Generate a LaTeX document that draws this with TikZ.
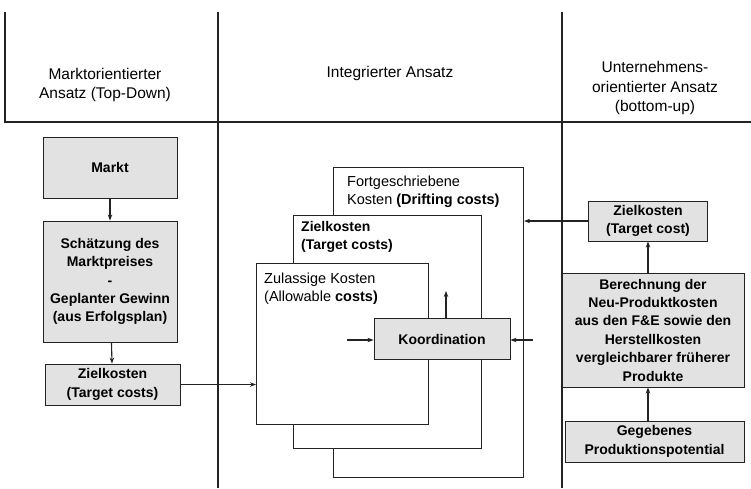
\documentclass[tikz,border=0pt]{standalone}
\usepackage{fontspec}
\setmainfont{Liberation Sans}
\usepackage{tikz}
\usetikzlibrary{arrows.meta,positioning}
\definecolor{boxgray}{RGB}{226,226,226}
\definecolor{inkline}{RGB}{35,35,35}

\begin{document}
\begin{tikzpicture}[x=1pt,y=-1pt,
  head/.style={align=center,font=\fontsize{15.5}{19.5}\selectfont},
  graybox/.style={rectangle,draw=inkline,line width=0.9pt,fill=boxgray,
    align=center,inner sep=0pt,font=\fontsize{14}{18.4}\selectfont\bfseries},
  layer/.style={rectangle,draw=inkline,line width=1.1pt,fill=white,
    anchor=north west,inner sep=0pt},
  layertext/.style={anchor=north west,align=left,inner sep=0pt,
    font=\fontsize{14.5}{18}\selectfont},
  sep/.style={line width=1.3pt,color=inkline},
  arrow/.style={-{Stealth[length=6pt,width=4.5pt]},line width=1.1pt,color=inkline},
]
  \useasboundingbox (0,0) rectangle (751,488);
  % column heads
  \node[head] (hmarkt) at (105,85)  {Marktorientierter\\Ansatz (Top-Down)};
  \node[head] (hinteg) at (390,73)  {Integrierter Ansatz};
  \node[head] (hunter) at (655,88)  {Unternehmens-\\orientierter Ansatz\\(bottom-up)};
  \coordinate (sepa) at (5,12);
  \coordinate (sepb) at (218,12);
  \coordinate (sepc) at (562,12);
  \draw[sep] (sepa) -- (sepa |- 0,122) -- (751,122);
  \draw[sep] (sepb) -- (sepb |- 0,488);
  \draw[sep] (sepc) -- (sepc |- 0,488);

  % top-down
  \node[graybox,minimum width=134,minimum height=61]  (markt)   at (110,167.5) {Markt};
  \node[graybox,minimum width=134,minimum height=121] (schaetz) at (110,281.5)
    {Schätzung des\\Marktpreises\\-\\Geplanter Gewinn\\(aus Erfolgsplan)};
  \node[graybox,minimum width=135,minimum height=41]  (zielL)   at (112.5,384.5) {Zielkosten\\(Target costs)};
  \draw[arrow] (markt) -- (schaetz);
  \draw[arrow] (schaetz) -- (zielL);

  % integrated
  \node[layer,minimum width=190,minimum height=310] (drift) at (333,167) {};
  \node[layertext] (drifttxt) at ([shift={(14,9)}]drift.north west)
    {Fortgeschriebene\\Kosten \textbf{(Drifting costs)}};
  \node[layer,minimum width=188,minimum height=233] (zielM) at (293,215) {};
  \node[layertext,font=\fontsize{14}{18}\selectfont\bfseries] (zielMtxt)
    at ([shift={(8,6)}]zielM.north west) {Zielkosten\\(Target costs)};
  \node[layer,minimum width=172,minimum height=161] (zul) at (256,263) {};
  \node[layertext] (zultxt) at ([shift={(8,10)}]zul.north west)
    {Zulassige Kosten\\(Allowable \textbf{costs)}};
  \node[graybox,minimum width=136,minimum height=41] (koord) at (442,339) {Koordination};
  \coordinate (kup)  at (446,291);
  \coordinate (kin)  at (347,340);
  \coordinate (kout) at (533,340);
  \draw[arrow] (koord.north -| kup) -- (kup);
  \draw[arrow] (kin) -- (kin -| koord.west);
  \draw[arrow] (kout) -- (kout -| koord.east);
  \draw[arrow] (zielL.east) -- (zielL.east -| zul.west);

  % bottom-up
  \node[graybox,minimum width=119,minimum height=40]  (zielR)  at (648,221) {Zielkosten\\(Target cost)};
  \node[graybox,minimum width=182,minimum height=114] (berech) at (653,330)
    {Berechnung der\\Neu-Produktkosten\\aus den F\&E sowie den\\Herstellkosten\\vergleichbarer früherer\\Produkte};
  \node[graybox,minimum width=179,minimum height=41]  (gegeb)  at (654.5,441.5) {Gegebenes\\Produktionspotential};
  \draw[arrow] (gegeb.north -| zielR.south) -- (berech.south -| zielR.south);
  \draw[arrow] (berech.north -| zielR.south) -- (zielR.south);
  \draw[arrow] (zielR.west) -- (zielR.west -| drift.east);
\end{tikzpicture}
\end{document}
